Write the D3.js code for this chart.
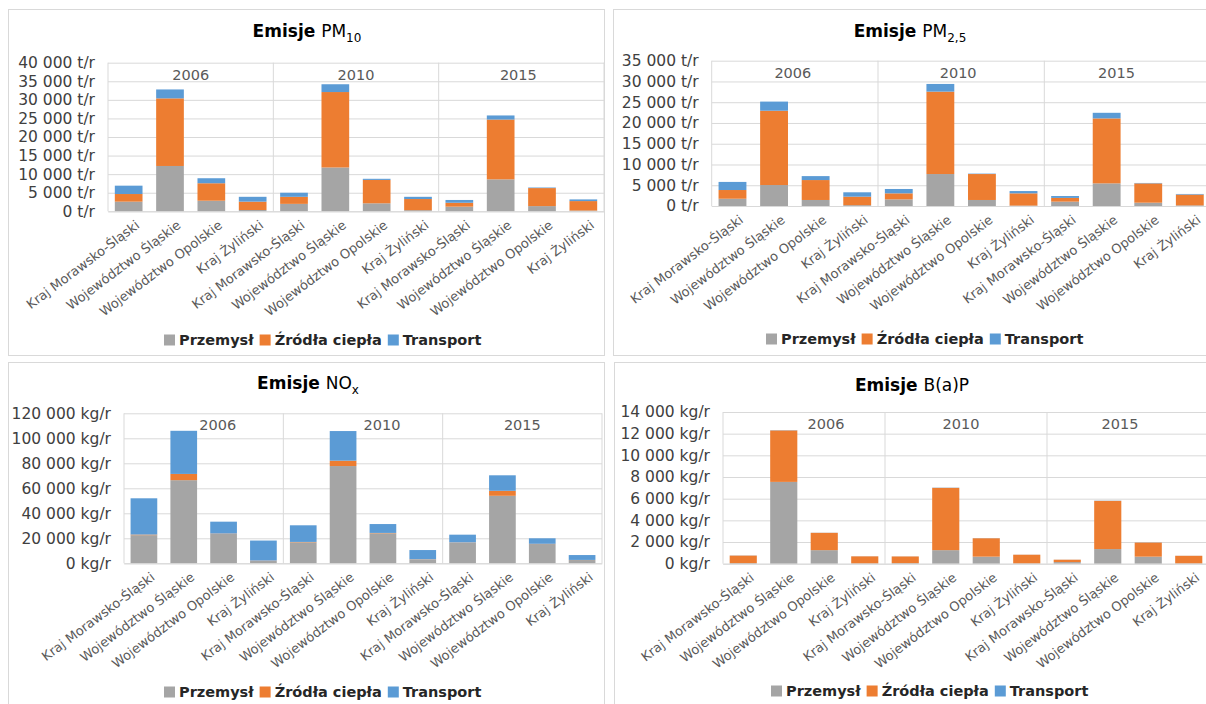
<!DOCTYPE html>
<meta charset="utf-8">
<style>
body { margin: 0; background: #fff; }
svg text { font-family: "DejaVu Sans", sans-serif; }
</style>
<body>
<script src="https://d3js.org/d3.v7.min.js"></script>
<script>

var regions = ["Kraj Morawsko-Śląski", "Województwo Śląskie", "Województwo Opolskie", "Kraj Żyliński"];
var years = ["2006", "2010", "2015"];
var seriesNames = ["Przemysł", "Źródła ciepła", "Transport"];
var colors = ["#a5a5a5", "#ed7d31", "#5b9bd5"];

// values in order: 2006 (4 regions), 2010 (4 regions), 2015 (4 regions)
var pm10Przemysl  = [2600, 12200, 2850, 350, 2000, 11800, 2150, 300, 1250, 8600, 1400, 200];
var pm10Zrodla    = [2050, 18200, 4700, 2250, 1900, 20300, 6300, 3000, 1050, 16100, 4850, 2550];
var pm10Transport = [2250, 2400, 1350, 1300, 1100, 2100, 300, 600, 750, 1100, 150, 450];

var pm25Przemysl  = [1750, 5050, 1450, 200, 1600, 7700, 1450, 100, 1050, 5450, 800, 150];
var pm25Zrodla    = [2100, 17900, 4800, 2050, 1450, 19850, 6250, 2950, 900, 15650, 4650, 2600];
var pm25Transport = [1950, 2200, 950, 1050, 1050, 1850, 100, 550, 450, 1350, 100, 150];

var noxPrzemysl  = [22500, 66500, 23500, 2000, 16800, 77800, 24000, 3000, 16500, 54000, 15400, 2600];
var noxZrodla    = [500, 5000, 300, 200, 300, 4300, 300, 200, 200, 4000, 200, 100];
var noxTransport = [29000, 34500, 9500, 16000, 13300, 23700, 7100, 7400, 6200, 12400, 4400, 3900];

var bapPrzemysl  = [50, 7550, 1250, 30, 50, 1250, 650, 30, 150, 1350, 650, 30];
var bapZrodla    = [700, 4750, 1600, 650, 620, 5750, 1700, 800, 220, 4450, 1300, 700];
var bapTransport = [10, 20, 10, 5, 5, 20, 10, 5, 5, 20, 10, 5];

var pm10Ticks = [0, 5000, 10000, 15000, 20000, 25000, 30000, 35000, 40000];
var pm25Ticks = [0, 5000, 10000, 15000, 20000, 25000, 30000, 35000];
var noxTicks  = [0, 20000, 40000, 60000, 80000, 100000, 120000];
var bapTicks  = [0, 2000, 4000, 6000, 8000, 10000, 12000, 14000];

var width = 1206, height = 704;
var svg = d3.select("body").append("svg")
    .attr("width", width)
    .attr("height", height);

var fmt = function(d) { return d3.format(",")(d).replace(/,/g, " "); };

var panels = [
  { frame: [8, 9, 596, 346], title: "PM", sub: "10", unit: "t/r", ticks: pm10Ticks,
    values: [pm10Przemysl, pm10Zrodla, pm10Transport],
    left: 108, right: 604, top: 62.7, bottom: 211.3,
    titleX: 307, titleY: 31, legendX: 164, legendY: 340, yearShift: [0, 0, -3] },
  { frame: [613, 9, 620, 346], title: "PM", sub: "2,5", unit: "t/r", ticks: pm25Ticks,
    values: [pm25Przemysl, pm25Zrodla, pm25Transport],
    left: 711.7, right: 1210.6, top: 60.7, bottom: 206,
    titleX: 910, titleY: 31, legendX: 766, legendY: 339, yearShift: [-2, -3, -11] },
  { frame: [8, 362, 596, 360], title: "NO", sub: "x", unit: "kg/r", ticks: noxTicks,
    values: [noxPrzemysl, noxZrodla, noxTransport],
    left: 124, right: 602, top: 413.3, bottom: 563.3,
    titleX: 308, titleY: 383, legendX: 164, legendY: 692, yearShift: [14, 19, 0] },
  { frame: [614, 362, 620, 360], title: "B(a)P", sub: "", unit: "kg/r", ticks: bapTicks,
    values: [bapPrzemysl, bapZrodla, bapTransport],
    left: 723, right: 1209, top: 412, bottom: 563.7,
    titleX: 912, titleY: 385, legendX: 771, legendY: 691, yearShift: [22, -5, -8] }
];

panels.forEach(drawPanel);

function drawPanel(p) {
  var g = svg.append("g");

  g.append("rect")
      .attr("x", p.frame[0] + 0.5).attr("y", p.frame[1] + 0.5)
      .attr("width", p.frame[2]).attr("height", p.frame[3])
      .attr("fill", "#fff")
      .attr("stroke", "#d9d9d9");

  var cats = [];
  years.forEach(function(yr) {
    regions.forEach(function(r) { cats.push(yr + "|" + r); });
  });

  var x = d3.scaleBand().domain(cats).range([p.left, p.right])
      .paddingInner(0.33).paddingOuter(0.165);
  var xYear = d3.scaleBand().domain(years).range([p.left, p.right]);
  var y = d3.scaleLinear().domain([0, p.ticks[p.ticks.length - 1]]).range([p.bottom, p.top]);

  // grid + y labels
  g.append("g")
      .attr("transform", "translate(" + p.left + ",0)")
      .call(d3.axisLeft(y).tickValues(p.ticks)
          .tickSize(-(p.right - p.left))
          .tickFormat(function(d) { return fmt(d) + " " + p.unit; }))
      .call(function(a) {
        a.select(".domain").remove();
        a.selectAll("line").attr("stroke", "#d9d9d9");
        a.selectAll("text")
            .attr("x", -13)
            .attr("fill", "#404040")
            .style("font-size", "15.5px");
      });

  // year separators
  g.selectAll(".sep")
    .data(years.concat(["end"]))
    .enter().append("line")
      .attr("class", "sep")
      .attr("x1", function(d) { return d === "end" ? p.right : xYear(d); })
      .attr("x2", function(d) { return d === "end" ? p.right : xYear(d); })
      .attr("y1", p.top)
      .attr("y2", p.bottom)
      .attr("stroke", "#d9d9d9");

  // year labels
  g.selectAll(".year")
    .data(years)
    .enter().append("text")
      .attr("class", "year")
      .attr("x", function(d, i) { return xYear(d) + xYear.bandwidth() / 2 + p.yearShift[i]; })
      .attr("y", p.top + 12)
      .attr("dy", "0.35em")
      .attr("text-anchor", "middle")
      .attr("fill", "#595959")
      .style("font-size", "14.5px")
      .text(function(d) { return d; });

  // stacked bars
  var rows = cats.map(function(c, i) {
    var r = { cat: c };
    seriesNames.forEach(function(s, k) { r[s] = p.values[k][i]; });
    return r;
  });
  var stacked = d3.stack().keys(seriesNames)(rows);

  g.selectAll(".layer")
    .data(stacked)
    .enter().append("g")
      .attr("class", "layer")
      .attr("fill", function(d, i) { return colors[i]; })
    .selectAll("rect")
    .data(function(d) { return d; })
    .enter().append("rect")
      .attr("x", function(d) { return x(d.data.cat); })
      .attr("y", function(d) { return y(d[1]); })
      .attr("width", x.bandwidth())
      .attr("height", function(d) { return y(d[0]) - y(d[1]); });

  // category axis
  g.append("g")
      .attr("transform", "translate(0," + p.bottom + ")")
      .call(d3.axisBottom(x).tickSize(0).tickFormat(function(c) { return c.split("|")[1]; }))
      .call(function(a) {
        a.select(".domain").attr("stroke", "#d9d9d9");
        a.selectAll("text")
            .attr("x", 0).attr("y", 0).attr("dy", "0.35em")
            .attr("transform", "translate(9,12) rotate(-37)")
            .attr("text-anchor", "end")
            .attr("fill", "#595959")
            .style("font-size", "13px");
      });

  // title
  var t = g.append("text")
      .attr("x", p.titleX)
      .attr("y", p.titleY)
      .attr("dy", "0.35em")
      .attr("text-anchor", "middle")
      .attr("fill", "#000");
  t.append("tspan").attr("font-weight", "bold").style("font-size", "17px").text("Emisje ");
  t.append("tspan").style("font-size", "17px").text(p.title);
  if (p.sub) {
    t.append("tspan").attr("dy", 5).style("font-size", "12px").text(p.sub);
  }

  // legend
  var lg = g.append("g").attr("transform", "translate(" + p.legendX + "," + p.legendY + ")");
  var cx = 0;
  seriesNames.forEach(function(s, i) {
    lg.append("rect")
        .attr("x", cx).attr("y", -5.5)
        .attr("width", 11).attr("height", 11)
        .attr("fill", colors[i]);
    var tx = lg.append("text")
        .attr("x", cx + 15)
        .attr("dy", "0.35em")
        .attr("font-weight", "bold")
        .attr("fill", "#262626")
        .style("font-size", "14.5px")
        .text(s);
    cx += 15 + tx.node().getComputedTextLength() + 6;
  });
}

</script>
</body>
